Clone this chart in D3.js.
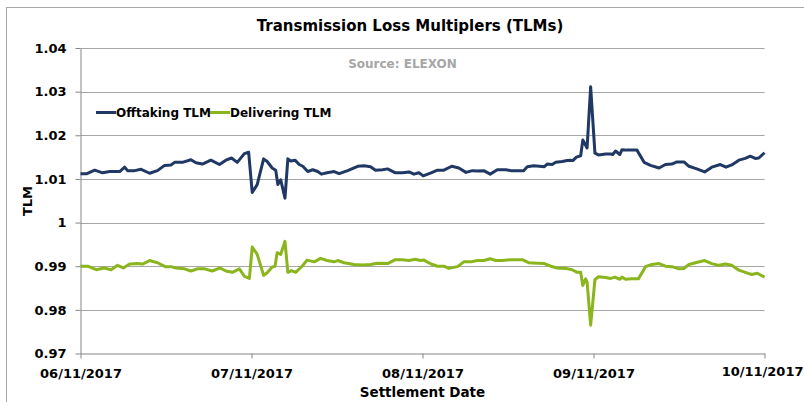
<!DOCTYPE html>
<html>
<head>
<meta charset="utf-8">
<script src="https://cdnjs.cloudflare.com/ajax/libs/d3/7.8.5/d3.min.js"></script>
<style>
    body { margin: 0; background: #fff; }
    svg { display: block; font-family: "DejaVu Sans", Verdana, sans-serif; font-weight: bold; }
</style>
</head>
<body>
<script>
var width = 804,
    height = 402;

// hours after 06/11/2017 00:00 and the TLM read at that time
var offtakingHours = [0, 0.9, 2.0, 3.1, 4.1, 5.5, 6.2, 6.6, 7.6, 8.5, 9.7, 10.8, 11.8, 12.7, 13.2, 14.3,
    15.5, 16.2, 17.1, 18.3, 19.5, 20.4, 21.2, 22.0, 23.0, 23.6, 24.1, 24.8, 25.7, 26.2, 26.9, 27.4,
    27.7, 28.1, 28.7, 29.1, 29.5, 30.1, 30.7, 31.2, 31.9, 32.6, 33.3, 33.8, 34.6, 35.6, 36.3, 37.5,
    38.9, 39.8, 40.7, 41.4, 42.4, 43.1, 44.2, 45.2, 46.1, 46.8, 47.5, 48.1, 49.2, 50.1, 51.0, 52.1,
    53.1, 54.1, 55.0, 55.7, 56.6, 57.5, 58.5, 59.7, 60.4, 61.5, 62.2, 62.7, 63.6, 64.4, 65.1, 65.5,
    66.2, 66.7, 67.6, 68.3, 68.8, 69.1, 69.6, 70.2, 70.5, 71.1, 71.6, 72.2, 72.7, 73.7, 74.4, 74.7,
    75.1, 75.7, 76.0, 76.7, 77.4, 78.1, 79.1, 80.0, 81.2, 82.1, 83.0, 83.7, 84.7, 85.4, 86.5, 87.6,
    88.6, 89.8, 90.6, 91.4, 92.4, 93.3, 94.0, 94.7, 95.2, 96.0];
var offtakingValues = [1.0112, 1.0112, 1.0120, 1.0114, 1.0117, 1.0117, 1.0127, 1.0119, 1.0119, 1.0122, 1.0113, 1.0119, 1.0131, 1.0132, 1.0138, 1.0138,
    1.0144, 1.0137, 1.0134, 1.0143, 1.0133, 1.0143, 1.0148, 1.0138, 1.0158, 1.0161, 1.0069, 1.0087, 1.0146, 1.0140, 1.0125, 1.0120,
    1.0087, 1.0098, 1.0056, 1.0146, 1.0141, 1.0143, 1.0133, 1.0129, 1.0117, 1.0121, 1.0117, 1.0111, 1.0114, 1.0117, 1.0112, 1.0119,
    1.0129, 1.0130, 1.0128, 1.0120, 1.0121, 1.0123, 1.0114, 1.0114, 1.0116, 1.0111, 1.0114, 1.0107, 1.0114, 1.0120, 1.0120, 1.0129,
    1.0125, 1.0115, 1.0119, 1.0118, 1.0119, 1.0111, 1.0121, 1.0121, 1.0119, 1.0119, 1.0119, 1.0128, 1.0130, 1.0129, 1.0128, 1.0134,
    1.0133, 1.0138, 1.0140, 1.0142, 1.0143, 1.0142, 1.0150, 1.0153, 1.0189, 1.0171, 1.0311, 1.0159, 1.0155, 1.0157, 1.0157, 1.0156,
    1.0164, 1.0156, 1.0167, 1.0166, 1.0166, 1.0166, 1.0138, 1.0131, 1.0125, 1.0133, 1.0134, 1.0139, 1.0139, 1.0129, 1.0123, 1.0116,
    1.0127, 1.0133, 1.0127, 1.0132, 1.0143, 1.0147, 1.0152, 1.0147, 1.0148, 1.0160];

var deliveringHours = [0, 1.0, 2.2, 3.3, 4.3, 5.2, 6.0, 6.9, 8.0, 8.7, 9.7, 10.8, 11.9, 12.7, 13.4, 14.6,
    15.5, 16.4, 17.4, 18.5, 19.6, 20.4, 21.3, 22.3, 23.0, 23.7, 24.1, 24.8, 25.7, 26.2, 26.9, 27.3,
    27.6, 28.1, 28.7, 29.1, 29.6, 30.2, 31.1, 31.8, 32.8, 33.7, 34.6, 35.6, 36.1, 37.0, 38.4, 39.6,
    40.7, 41.7, 43.1, 44.2, 45.2, 46.1, 47.0, 47.7, 48.2, 49.2, 50.1, 51.0, 51.7, 52.9, 53.8, 54.8,
    55.7, 56.6, 57.5, 58.3, 59.2, 60.4, 62.0, 62.9, 64.1, 65.1, 66.0, 66.9, 68.1, 69.0, 69.7, 70.2,
    70.5, 70.9, 71.1, 71.6, 72.2, 72.7, 73.7, 74.4, 75.0, 75.7, 76.0, 76.5, 77.4, 78.3, 79.3, 80.2,
    81.2, 82.1, 83.0, 84.0, 84.7, 85.4, 86.3, 87.6, 88.6, 89.6, 90.5, 91.4, 92.4, 93.3, 94.2, 95.0, 96.0];
var deliveringValues = [0.9900, 0.9900, 0.9892, 0.9896, 0.9892, 0.9902, 0.9896, 0.9905, 0.9906, 0.9905, 0.9913, 0.9908, 0.9899, 0.9899, 0.9896, 0.9894,
    0.9889, 0.9894, 0.9894, 0.9889, 0.9896, 0.9889, 0.9886, 0.9894, 0.9877, 0.9872, 0.9944, 0.9927, 0.9879, 0.9885, 0.9898, 0.9900,
    0.9931, 0.9927, 0.9957, 0.9886, 0.9890, 0.9886, 0.9900, 0.9914, 0.9910, 0.9918, 0.9913, 0.9910, 0.9913, 0.9908, 0.9904, 0.9903,
    0.9904, 0.9907, 0.9906, 0.9915, 0.9915, 0.9913, 0.9916, 0.9913, 0.9914, 0.9905, 0.9900, 0.9900, 0.9895, 0.9899, 0.9910, 0.9910,
    0.9913, 0.9913, 0.9917, 0.9913, 0.9913, 0.9915, 0.9915, 0.9908, 0.9907, 0.9906, 0.9900, 0.9896, 0.9895, 0.9892, 0.9886, 0.9886,
    0.9856, 0.9871, 0.9864, 0.9765, 0.9869, 0.9876, 0.9874, 0.9872, 0.9875, 0.9870, 0.9875, 0.9870, 0.9871, 0.9871, 0.9899, 0.9904,
    0.9906, 0.9900, 0.9899, 0.9894, 0.9895, 0.9904, 0.9908, 0.9913, 0.9906, 0.9902, 0.9905, 0.9902, 0.9891, 0.9886, 0.9881, 0.9884, 0.9875];

var seriesNames = ["Offtaking TLM", "Delivering TLM"];
var seriesColors = ["#1f3864", "#8ab51c"];

var yTicks = [0.97, 0.98, 0.99, 1.00, 1.01, 1.02, 1.03, 1.04];
var startDate = new Date(2017, 10, 6),
    endDate = new Date(2017, 10, 10);

var plot = {left: 80.5, right: 764.5, top: 48, bottom: 353.5};

function toPoints(hours, values) {
    return hours.map(function(h, i) {
        return {date: d3.timeMinute.offset(startDate, Math.round(h * 60)), value: values[i]};
    });
}

var series = [
    toPoints(offtakingHours, offtakingValues),
    toPoints(deliveringHours, deliveringValues)
];

var x = d3.scaleTime()
    .domain([startDate, endDate])
    .range([plot.left, plot.right]);

var y = d3.scaleLinear()
    .domain([0.97, 1.04])
    .range([plot.bottom, plot.top]);

var svg = d3.select("body").append("svg")
    .attr("width", width)
    .attr("height", height);

// outer chart frame, runs off the right and bottom edges
svg.append("rect")
    .attr("x", 6.5)
    .attr("y", 7.5)
    .attr("width", 820)
    .attr("height", 420)
    .style("fill", "none")
    .style("stroke", "#a6a6a6");

// gridlines
svg.selectAll("line.grid")
    .data(yTicks.slice(1))
    .enter().append("line")
    .attr("class", "grid")
    .attr("x1", plot.left)
    .attr("x2", plot.right)
    .attr("y1", function(d) { return Math.round(y(d)) + 0.5; })
    .attr("y2", function(d) { return Math.round(y(d)) + 0.5; })
    .style("stroke", "#a6a6a6")
    .style("stroke-width", 1);

// y axis
var yAxis = svg.append("g")
    .attr("transform", "translate(" + plot.left + ",0)")
    .call(d3.axisLeft(y)
        .tickValues(yTicks)
        .tickSize(5)
        .tickSizeOuter(0)
        .tickPadding(9)
        .tickFormat(function(d) { return String(+d.toFixed(2)); }));

// x axis
var xAxis = svg.append("g")
    .attr("transform", "translate(0," + plot.bottom + ")")
    .call(d3.axisBottom(x)
        .ticks(d3.timeDay.every(1))
        .tickSize(5)
        .tickSizeOuter(0)
        .tickPadding(10)
        .tickFormat(d3.timeFormat("%d/%m/%Y")));

[yAxis, xAxis].forEach(function(g) {
    g.select(".domain").style("stroke", "#868686");
    g.selectAll(".tick line").style("stroke", "#868686");
    g.selectAll(".tick text")
        .style("font-family", "DejaVu Sans, Verdana, sans-serif")
        .style("font-weight", "bold")
        .style("font-size", "13px")
        .style("fill", "#000");
});

// last date label is pushed in so it fits the frame
xAxis.selectAll(".tick text")
    .filter(function(d) { return +d === +endDate; })
    .attr("text-anchor", "end")
    .attr("x", width - 1 - plot.right)
    .attr("y", 13);

// the lines
var line = d3.line()
    .x(function(d) { return x(d.date); })
    .y(function(d) { return y(d.value); });

svg.selectAll("path.series")
    .data(series)
    .enter().append("path")
    .attr("class", "series")
    .attr("d", line)
    .style("fill", "none")
    .style("stroke", function(d, i) { return seriesColors[i]; })
    .style("stroke-width", 3)
    .style("stroke-linejoin", "round");

// titles
svg.append("text")
    .attr("x", 410)
    .attr("y", 30.5)
    .attr("text-anchor", "middle")
    .style("font-size", "15px")
    .text("Transmission Loss Multiplers (TLMs)");

svg.append("text")
    .attr("x", 402.5)
    .attr("y", 67.5)
    .attr("text-anchor", "middle")
    .style("font-size", "12px")
    .style("fill", "#a6a6a6")
    .text("Source: ELEXON");

svg.append("text")
    .attr("x", 422.5)
    .attr("y", 397)
    .attr("text-anchor", "middle")
    .style("font-size", "13.5px")
    .text("Settlement Date");

svg.append("text")
    .attr("transform", "translate(32,201) rotate(-90)")
    .attr("text-anchor", "middle")
    .style("font-size", "13px")
    .text("TLM");

// legend
var legendX = [96, 210];
var legend = svg.selectAll("g.legend")
    .data(seriesNames)
    .enter().append("g")
    .attr("class", "legend")
    .attr("transform", function(d, i) { return "translate(" + legendX[i] + ",112.5)"; });

legend.append("line")
    .attr("x1", 0)
    .attr("x2", 20)
    .style("stroke", function(d, i) { return seriesColors[i]; })
    .style("stroke-width", 3);

legend.append("text")
    .attr("x", 20)
    .attr("y", 4)
    .style("font-size", "12px")
    .text(function(d) { return d; });
</script>
</body>
</html>
